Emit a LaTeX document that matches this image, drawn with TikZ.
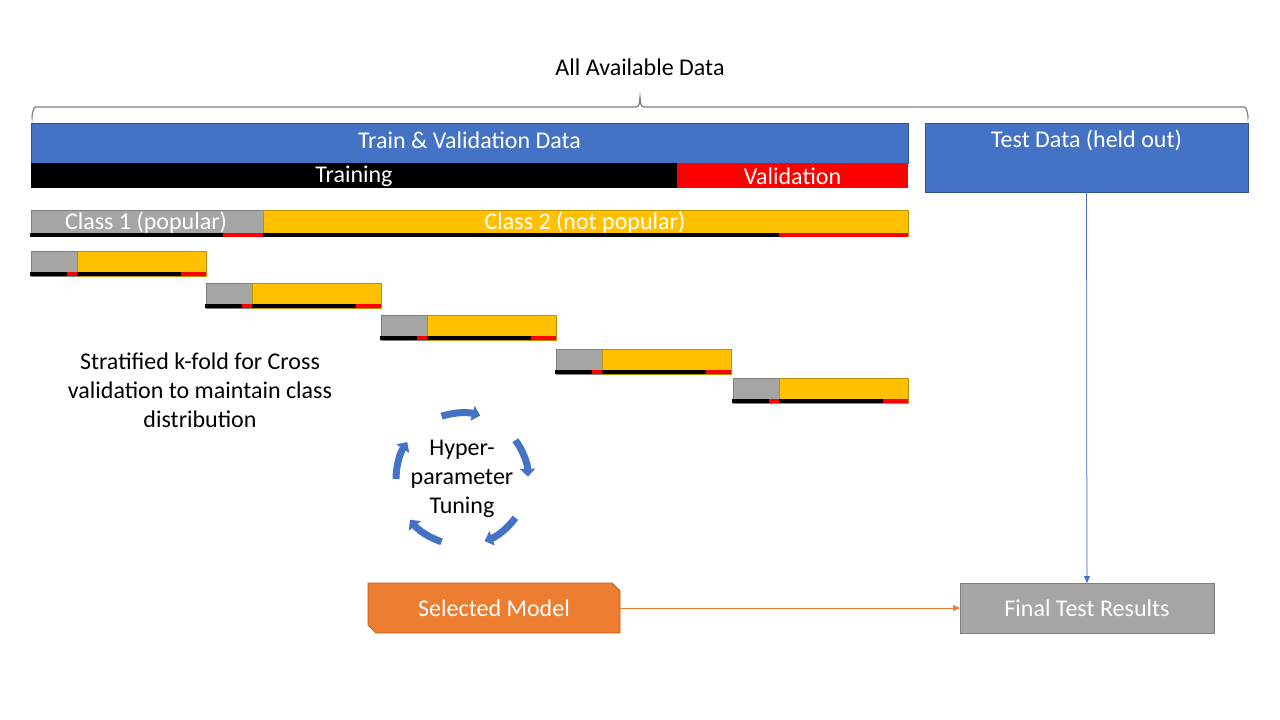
\documentclass[tikz,border=0pt]{standalone}
\usepackage{fontspec}
\setmainfont{Carlito}
\usetikzlibrary{arrows.meta,calc}
\definecolor{cblue}{HTML}{4472C4}
\definecolor{cblueb}{HTML}{2F528F}
\definecolor{cyel}{HTML}{FFC000}
\definecolor{cyelb}{HTML}{BF9000}
\definecolor{cgray}{HTML}{A5A5A5}
\definecolor{cgrayb}{HTML}{7F7F7F}
\definecolor{cred}{HTML}{FF0000}
\definecolor{corange}{HTML}{ED7D31}
\definecolor{coranb}{HTML}{C55A11}
\begin{document}
\begin{tikzpicture}[x=1pt,y=-1pt,
  box/.style={inner sep=0pt, outer sep=0pt, anchor=north west},
  bluebox/.style={box, fill=cblue, draw=cblueb, line width=0.75pt},
  gbox/.style={box, fill=cgray, draw=cgrayb, line width=0.75pt},
  ybox/.style={box, fill=cyel, draw=cyelb, line width=0.75pt},
  lbl/.style={font=\fontsize{24}{29}\selectfont, inner sep=0pt},
  wlbl/.style={lbl, text=white},
  cyc/.style={draw=cblue, line width=7pt, -{Triangle[length=8pt,width=15pt]}},
  conn/.style={line width=0.75pt, -{Triangle[length=7pt,width=6pt]}}
]
\useasboundingbox (0,0) rectangle (1280,720);

% title and brace
\node[lbl] (all) at (640,67) {All Available Data};
\draw[cgrayb, line width=1.2pt]
  (32,117) to[out=-90,in=180] (36,107) -- (636,107) to[out=0,in=-100] (640,97)
  to[out=-80,in=180] (644,107) -- (1244,107) to[out=0,in=-90] (1248,117);

% train & validation
\node[bluebox, minimum width=877pt, minimum height=40pt] (tv) at (31,123) {};
\node[wlbl] (tvl) at (469.5,140) {Train \& Validation Data};
\node[box, fill=black, minimum width=646pt, minimum height=25pt] (tr) at (31,163) {};
\node[box, fill=cred, minimum width=231pt, minimum height=25pt] (va) at (677,163) {};
\node[wlbl] (trl) at (354,176) {Training};
\node[wlbl] (val) at (792.5,176) {Validation};

% test data
\node[bluebox, minimum width=323pt, minimum height=69pt] (test) at (925,123) {};
\node[wlbl] (testl) at (1086.5,140) {Test Data (held out)};

% class bar
\node[gbox, minimum width=232pt, minimum height=26pt] (c1) at (31,210) {};
\node[ybox, minimum width=645pt, minimum height=26pt] (c2) at (263,210) {};
\fill[black] (30,232.5) rectangle (223,236.5);
\fill[cred] (223,232.5) rectangle (263,236.5);
\fill[black] (263,232.5) rectangle (779,236.5);
\fill[cred] (779,232.5) rectangle (908,236.5);
\node[wlbl] (c1l) at (146,223) {Class 1 (popular)};
\node[wlbl] (c2l) at (585,223) {Class 2 (not popular)};

% folds
\foreach \i/\x/\y in {1/31/251, 2/206/283, 3/381/315, 4/556/349, 5/733/378} {
  \node[gbox, minimum width=46pt, minimum height=25pt] (g\i) at (\x,\y) {};
  \node[ybox, minimum width=129pt, minimum height=25pt] (y\i) at (\x+46,\y) {};
  \fill[black] (\x-1,\y+21) rectangle (\x+36,\y+25);
  \fill[cred] (\x+36,\y+21) rectangle (\x+46,\y+25);
  \fill[black] (\x+46,\y+21) rectangle (\x+150,\y+25);
  \fill[cred] (\x+150,\y+21) rectangle (\x+175,\y+25);
}

% stratified text
\node[lbl, align=center] (strat) at (200,390)
  {Stratified k-fold for Cross\\validation to maintain class\\distribution};

% hyperparameter cycle
\node[lbl, align=center] (hyp) at (462,479)
  {Hyper-\\parameter\\Tuning};
\coordinate (cc) at (462,479);
\foreach \k in {0,...,4} {
  \pgfmathsetmacro{\sa}{108-72*\k}
  \pgfmathsetmacro{\ea}{74-72*\k}
  \draw[cyc] ($(cc)+(\sa:66pt)$) arc[start angle=\sa, end angle=\ea, radius=66pt];
}

% selected model (snipped corners)
\filldraw[fill=corange, draw=coranb, line width=0.75pt]
  (368,583) -- (612,583) -- (620,591) -- (620,633) -- (376,633) -- (368,625) -- cycle;
\node[wlbl, minimum width=252pt, minimum height=50pt] (sel) at (494,608) {Selected Model};

% final results
\node[gbox, minimum width=254pt, minimum height=50pt] (fin) at (960,583) {};
\node[wlbl] (finl) at (fin.center) {Final Test Results};

% connectors
\draw[conn, draw=corange, fill=corange] (sel.east) -- (fin.west);
\draw[conn, draw=cblue, fill=cblue] (test.south) -- (fin.north);
\end{tikzpicture}
\end{document}
